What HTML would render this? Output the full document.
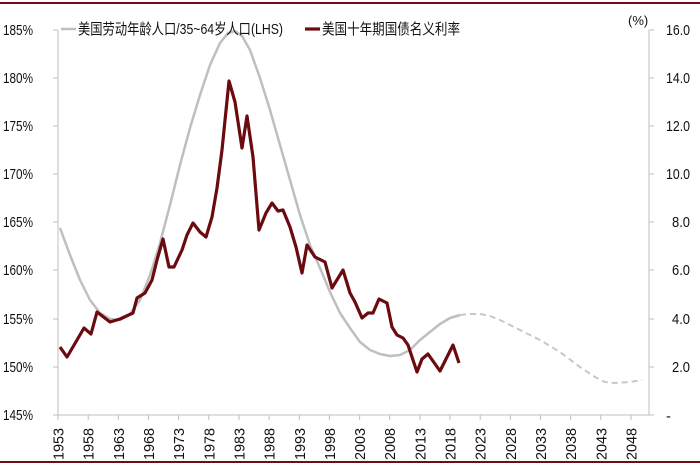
<!DOCTYPE html>
<html><head><meta charset="utf-8"><style>
body{margin:0;background:#fff}
svg{display:block;font-family:"Liberation Sans","Noto Sans CJK SC",sans-serif}
</style></head><body>
<svg width="700" height="473" viewBox="0 0 700 473">
<line x1="0" y1="3" x2="700" y2="3" stroke="#6b0f14" stroke-width="2"/>
<line x1="0" y1="462" x2="700" y2="462" stroke="#6b0f14" stroke-width="2"/>
<g stroke="#bfbfbf" stroke-width="1">
<line x1="58" y1="30" x2="58" y2="415"/>
<line x1="649" y1="30" x2="649" y2="415"/>
<line x1="58" y1="415" x2="649" y2="415"/>
<path d="M53 30H58M53 78H58M53 126H58M53 174H58M53 222H58M53 270H58M53 319H58M53 367H58M53 415H58"/>
<path d="M649 30H654M649 78H654M649 126H654M649 174H654M649 222H654M649 270H654M649 319H654M649 367H654M649 415H654"/>
<path d="M58 415V420M88.2 415V420M118.3 415V420M148.5 415V420M178.6 415V420M208.8 415V420M239 415V420M269.1 415V420M299.3 415V420M329.4 415V420M359.6 415V420M389.7 415V420M419.9 415V420M450 415V420M480.2 415V420M510.4 415V420M540.5 415V420M570.7 415V420M600.8 415V420M631 415V420"/>
</g>
<g font-size="15" fill="#111">
<text x="3" y="35" textLength="30" lengthAdjust="spacingAndGlyphs">185%</text><text x="3" y="83" textLength="30" lengthAdjust="spacingAndGlyphs">180%</text><text x="3" y="131" textLength="30" lengthAdjust="spacingAndGlyphs">175%</text><text x="3" y="179" textLength="30" lengthAdjust="spacingAndGlyphs">170%</text><text x="3" y="227" textLength="30" lengthAdjust="spacingAndGlyphs">165%</text><text x="3" y="275" textLength="30" lengthAdjust="spacingAndGlyphs">160%</text><text x="3" y="324" textLength="30" lengthAdjust="spacingAndGlyphs">155%</text><text x="3" y="372" textLength="30" lengthAdjust="spacingAndGlyphs">150%</text><text x="3" y="420" textLength="30" lengthAdjust="spacingAndGlyphs">145%</text>
</g>
<g font-size="15" fill="#111">
<text x="666" y="35" textLength="24" lengthAdjust="spacingAndGlyphs">16.0</text><text x="666" y="83" textLength="24" lengthAdjust="spacingAndGlyphs">14.0</text><text x="666" y="131" textLength="24" lengthAdjust="spacingAndGlyphs">12.0</text><text x="666" y="179" textLength="24" lengthAdjust="spacingAndGlyphs">10.0</text><text x="672" y="227" textLength="18" lengthAdjust="spacingAndGlyphs">8.0</text><text x="672" y="275" textLength="18" lengthAdjust="spacingAndGlyphs">6.0</text><text x="672" y="324" textLength="18" lengthAdjust="spacingAndGlyphs">4.0</text><text x="672" y="372" textLength="18" lengthAdjust="spacingAndGlyphs">2.0</text><text x="666" y="421">-</text>
</g>
<g font-size="15" fill="#111" text-anchor="end">
<text transform="translate(63.5,428) rotate(-90)" textLength="32" lengthAdjust="spacingAndGlyphs">1953</text><text transform="translate(93.7,428) rotate(-90)" textLength="32" lengthAdjust="spacingAndGlyphs">1958</text><text transform="translate(123.8,428) rotate(-90)" textLength="32" lengthAdjust="spacingAndGlyphs">1963</text><text transform="translate(154,428) rotate(-90)" textLength="32" lengthAdjust="spacingAndGlyphs">1968</text><text transform="translate(184.1,428) rotate(-90)" textLength="32" lengthAdjust="spacingAndGlyphs">1973</text><text transform="translate(214.3,428) rotate(-90)" textLength="32" lengthAdjust="spacingAndGlyphs">1978</text><text transform="translate(244.5,428) rotate(-90)" textLength="32" lengthAdjust="spacingAndGlyphs">1983</text><text transform="translate(274.6,428) rotate(-90)" textLength="32" lengthAdjust="spacingAndGlyphs">1988</text><text transform="translate(304.8,428) rotate(-90)" textLength="32" lengthAdjust="spacingAndGlyphs">1993</text><text transform="translate(334.9,428) rotate(-90)" textLength="32" lengthAdjust="spacingAndGlyphs">1998</text><text transform="translate(365.1,428) rotate(-90)" textLength="32" lengthAdjust="spacingAndGlyphs">2003</text><text transform="translate(395.2,428) rotate(-90)" textLength="32" lengthAdjust="spacingAndGlyphs">2008</text><text transform="translate(425.4,428) rotate(-90)" textLength="32" lengthAdjust="spacingAndGlyphs">2013</text><text transform="translate(455.5,428) rotate(-90)" textLength="32" lengthAdjust="spacingAndGlyphs">2018</text><text transform="translate(485.7,428) rotate(-90)" textLength="32" lengthAdjust="spacingAndGlyphs">2023</text><text transform="translate(515.9,428) rotate(-90)" textLength="32" lengthAdjust="spacingAndGlyphs">2028</text><text transform="translate(546,428) rotate(-90)" textLength="32" lengthAdjust="spacingAndGlyphs">2033</text><text transform="translate(576.2,428) rotate(-90)" textLength="32" lengthAdjust="spacingAndGlyphs">2038</text><text transform="translate(606.3,428) rotate(-90)" textLength="32" lengthAdjust="spacingAndGlyphs">2043</text><text transform="translate(636.5,428) rotate(-90)" textLength="32" lengthAdjust="spacingAndGlyphs">2048</text>
</g>
<polyline fill="none" stroke="#bfbfbf" stroke-width="2.5" stroke-linejoin="round" points="60,228 70,255 80,280 90,300 100,313 110,319 120,320 130,314 140,300 150,275 160,243 170,205 180,165 190,128 200,95 210,65 220,43 228,33 235,31 242,36 250,50 260,78 270,110 280,145 290,180 300,215 310,245 320,268 330,292 340,313 350,328 360,342 370,350 380,354 390,356 400,355 410,350 420,340 430,332 440,324 450,318 460,315"/>
<polyline fill="none" stroke="#c8c8c8" stroke-width="2" stroke-dasharray="6,4" points="460,315 470,314 480,314 490,316 500,320 520,330 540,340 560,352 580,367 595,377 605,382 615,383 630,382 642,380"/>
<polyline fill="none" stroke="#6b0a0f" stroke-width="3.2" stroke-linejoin="round" points="60,347 67,357 77,340 84,328 91,334 97,312 110,322 120,319 133,313 137,298 145,293 152,280 157,260 163,239 169,267 174,267 182,250 187,235 193,223 200,232 206,237 212,217 217,188 222,150 229,81 235,102 242,148 247,116 253,157 259,230 266,213 272,203 278,211 283,210 290,227 296,247 302,273 307,245 315,257 325,262 332,288 343,270 350,293 355,302 362,318 368,313 373,313 379,299 387,303 392,327 397,335 403,338 408,345 417,372 422,359 428,354 440,371 453,345 459,363"/>
<line x1="61" y1="29" x2="76" y2="29" stroke="#bfbfbf" stroke-width="2.5"/>
<text x="78" y="34" font-size="15" fill="#111" textLength="205" lengthAdjust="spacingAndGlyphs">美国劳动年龄人口/35~64岁人口(LHS)</text>
<line x1="305" y1="29" x2="320" y2="29" stroke="#6b0a0f" stroke-width="3.2"/>
<text x="322" y="34" font-size="15" fill="#111" textLength="138" lengthAdjust="spacingAndGlyphs">美国十年期国债名义利率</text>
<text x="628" y="25" font-size="13" fill="#111">(%)</text>
</svg>
</body></html>
